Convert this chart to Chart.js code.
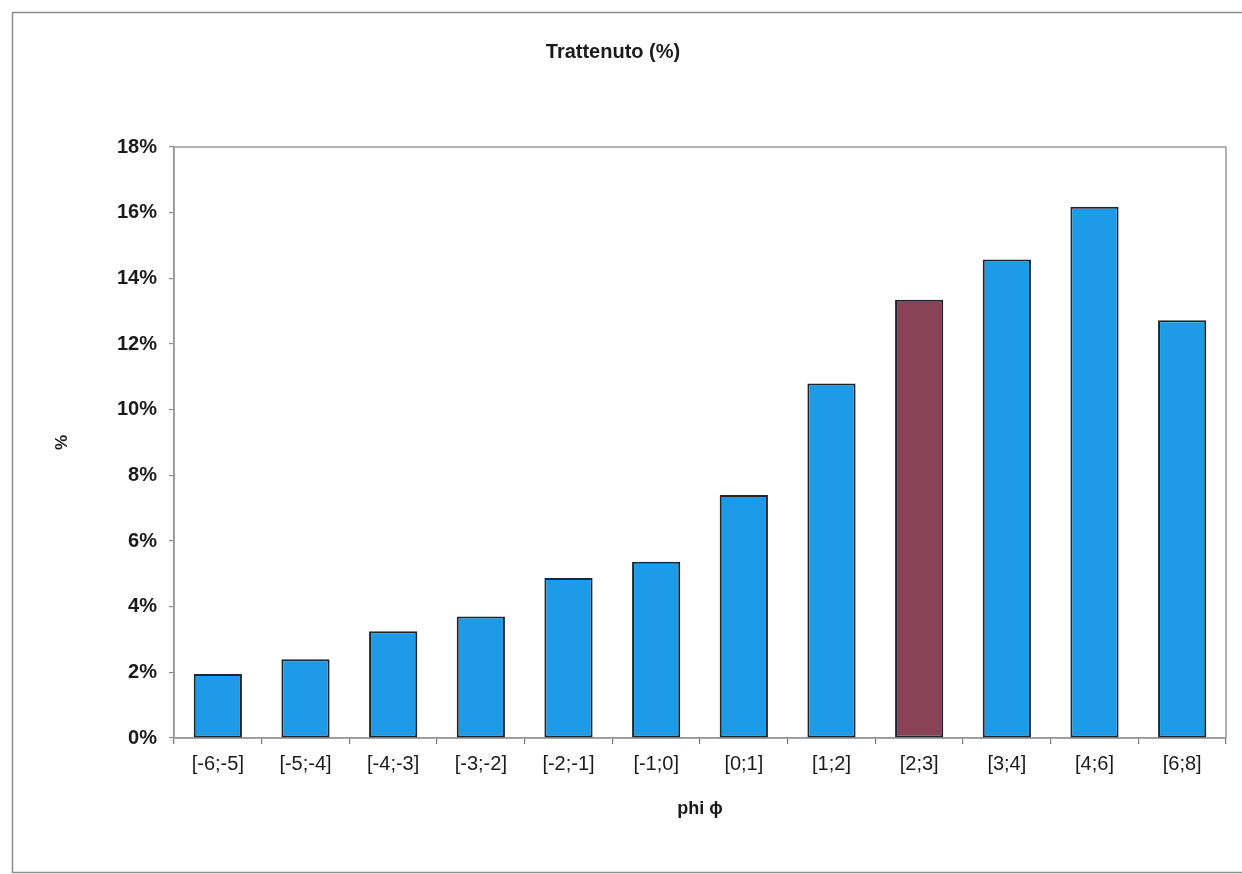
<!DOCTYPE html>
<html>
<head>
<meta charset="utf-8">
<script src="https://cdn.jsdelivr.net/npm/chart.js@4.4.1/dist/chart.umd.min.js"></script>
<style>
  html, body { margin: 0; padding: 0; background: #ffffff; }
  #wrap { width: 1242px; height: 874px; position: relative; }
</style>
</head>
<body>
<div id="wrap"><canvas id="chart" width="1242" height="874"></canvas></div>
<script>
// Class intervals of phi and the retained share (%) for each
const categories = ['[-6;-5]', '[-5;-4]', '[-4;-3]', '[-3;-2]', '[-2;-1]', '[-1;0]', '[0;1]', '[1;2]', '[2;3]', '[3;4]', '[4;6]', '[6;8]'];
const retained = [1.95, 2.4, 3.25, 3.7, 4.87, 5.37, 7.4, 10.8, 13.35, 14.57, 16.18, 12.72];
const highlighted = '[2;3]';
const yTicks = [0, 2, 4, 6, 8, 10, 12, 14, 16, 18];

const BLUE = '#1e9be6';
const MAROON = '#8a4257';
const FONT = '"Liberation Sans", Arial, sans-serif';

// Outer frame of the chart and border of the plot area
const framePlugin = {
  id: 'frame',
  beforeDraw(chart) {
    const ctx = chart.ctx;
    ctx.save();
    ctx.fillStyle = '#ffffff';
    ctx.fillRect(0, 0, chart.width, chart.height);
    ctx.strokeStyle = '#8c8c8c';
    ctx.lineWidth = 1.5;
    ctx.strokeRect(12.5, 12.5, chart.width + 10, chart.height - 14);
    ctx.restore();
  },
  beforeDatasetsDraw(chart) {
    const a = chart.chartArea;
    const ctx = chart.ctx;
    ctx.save();
    ctx.strokeStyle = '#9a9a9a';
    ctx.lineWidth = 1.5;
    ctx.strokeRect(a.left, a.top, a.right - a.left, a.bottom - a.top);
    ctx.restore();
  }
};

new Chart(document.getElementById('chart'), {
  type: 'bar',
  data: {
    labels: categories,
    datasets: [{
      data: retained,
      backgroundColor: categories.map(c => c === highlighted ? MAROON : BLUE),
      borderColor: '#1c2630',
      borderWidth: 2,
      borderSkipped: false,
      barPercentage: 0.55,
      categoryPercentage: 1.0
    }]
  },
  plugins: [framePlugin],
  options: {
    responsive: false,
    animation: false,
    devicePixelRatio: 1,
    layout: { padding: { top: 0, right: 16, bottom: 0, left: 0 } },
    plugins: {
      legend: { display: false },
      tooltip: { enabled: false },
      title: {
        display: true,
        text: 'Trattenuto (%)',
        color: '#1a1a1a',
        font: { family: FONT, size: 20, weight: 'bold' },
        padding: { top: 40, bottom: 83 }
      }
    },
    scales: {
      x: {
        grid: { display: true, drawOnChartArea: false, offset: true, tickLength: 6, color: '#777777', lineWidth: 1.2 },
        border: { display: true, color: '#8c8c8c', width: 1.5 },
        ticks: {
          color: '#1a1a1a',
          padding: 8,
          font: { family: FONT, size: 20 },
          maxRotation: 0,
          autoSkip: false
        },
        title: {
          display: true,
          text: 'phi ϕ',
          color: '#1a1a1a',
          font: { family: FONT, size: 18, weight: 'bold' },
          padding: { top: 0, bottom: 54 }
        },
        afterFit(scale) { scale.height = 136; }
      },
      y: {
        min: 0,
        max: 18,
        afterBuildTicks(scale) { scale.ticks = yTicks.map(v => ({ value: v })); },
        grid: { display: true, drawOnChartArea: false, tickLength: 5, color: '#8c8c8c', lineWidth: 1.2 },
        border: { display: true, color: '#8c8c8c', width: 1.5 },
        ticks: {
          color: '#1a1a1a',
          padding: 12,
          font: { family: FONT, size: 20, weight: 'bold' },
          callback: v => v + '%'
        },
        title: {
          display: true,
          text: '%',
          color: '#1a1a1a',
          font: { family: FONT, size: 17, weight: 'bold' },
          padding: { top: 52, bottom: 0 }
        },
        afterFit(scale) { scale.width = 174; }
      }
    }
  }
});
</script>
</body>
</html>
